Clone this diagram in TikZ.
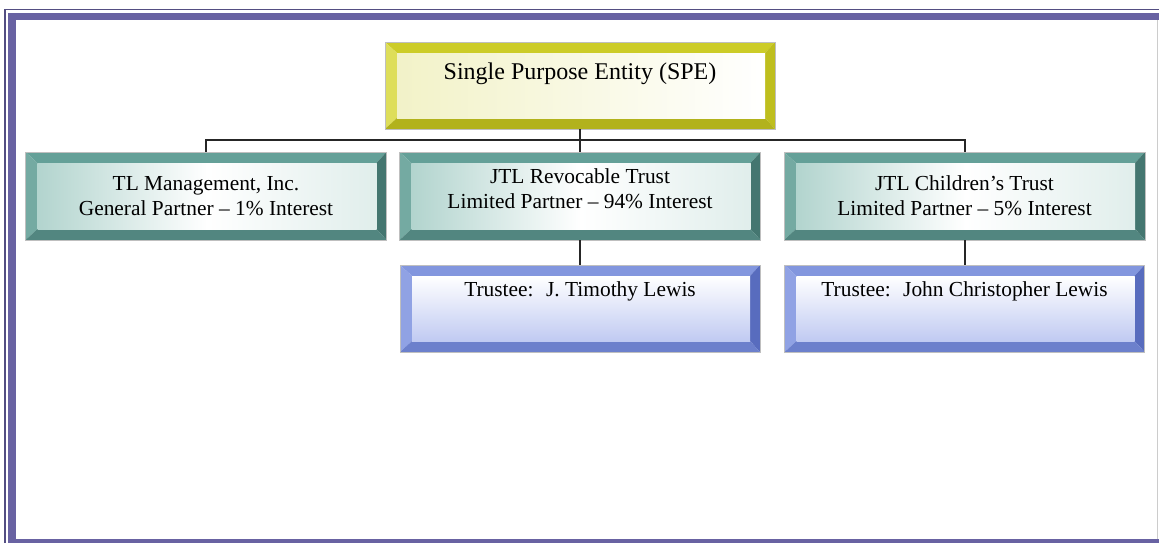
\documentclass[tikz,border=0pt]{standalone}
\usepackage{fontspec}
\setmainfont{Liberation Serif}
\usetikzlibrary{trees,shapes}

\definecolor{framec}{RGB}{104,98,162}
\definecolor{yelA}{RGB}{204,204,40}
\definecolor{yelB}{RGB}{222,222,90}
\definecolor{yelC}{RGB}{178,178,28}
\definecolor{yelD}{RGB}{190,190,30}
\definecolor{yelF}{RGB}{242,242,200}
\definecolor{tealA}{RGB}{100,160,152}
\definecolor{tealB}{RGB}{116,170,162}
\definecolor{tealC}{RGB}{68,118,112}
\definecolor{tealD}{RGB}{82,134,128}
\definecolor{tealF}{RGB}{178,212,206}
\definecolor{bluA}{RGB}{130,150,222}
\definecolor{bluB}{RGB}{144,162,228}
\definecolor{bluC}{RGB}{88,108,190}
\definecolor{bluD}{RGB}{108,128,204}
\definecolor{bluF}{RGB}{192,202,242}

\begin{document}
\begin{tikzpicture}[grow=down,
  level 1/.style={sibling distance=189.5pt, level distance=55.25pt},
  level 2/.style={level distance=56.25pt},
  edge from parent/.style={draw, line width=1pt, black!85},
  edge from parent path={(\tikzparentnode.south) -- ++(0,-5.5pt) -| (\tikzchildnode.north)},
  bevel/.style n args={5}{rectangle, draw=gray!50, line width=0.3pt, align=center,
    path picture={
      \coordinate (nw) at (path picture bounding box.north west);
      \coordinate (ne) at (path picture bounding box.north east);
      \coordinate (sw) at (path picture bounding box.south west);
      \coordinate (se) at (path picture bounding box.south east);
      \coordinate (inw) at ([shift={(6pt,-5.5pt)}]nw);
      \coordinate (ine) at ([shift={(-5pt,-5.5pt)}]ne);
      \coordinate (isw) at ([shift={(6pt,5.5pt)}]sw);
      \coordinate (ise) at ([shift={(-5pt,5.5pt)}]se);
      \fill[#1] (nw) -- (ne) -- (ine) -- (inw) -- cycle;
      \fill[#2] (nw) -- (inw) -- (isw) -- (sw) -- cycle;
      \fill[#3] (ne) -- (se) -- (ise) -- (ine) -- cycle;
      \fill[#4] (sw) -- (se) -- (ise) -- (isw) -- cycle;
      \shade[#5] (inw) rectangle (ise);
    }},
  spebox/.style={bevel={yelA}{yelB}{yelD}{yelC}{left color=yelF, right color=white},
    minimum width=195pt, minimum height=43.5pt, text depth=14.5pt,
    font=\fontsize{12}{14}\selectfont},
  partnerbox/.style={bevel={tealA}{tealB}{tealC}{tealD}{left color=tealF, right color=tealF!40, middle color=white},
    minimum width=180.5pt, minimum height=44pt,
    font=\fontsize{10.7}{12.5}\selectfont},
  trusteebox/.style={bevel={bluA}{bluB}{bluC}{bluD}{top color=white, bottom color=bluF},
    minimum width=180pt, minimum height=43.5pt, text depth=19.5pt,
    font=\fontsize{10.7}{12.5}\selectfont}]
  \useasboundingbox (0,0) rectangle (579.5pt,-271.5pt);

  % frame
  \fill[framec] (4pt,-6.5pt) rectangle (579.5pt,-10pt);
  \fill[framec] (4pt,-6.5pt) rectangle (8pt,-271.5pt);
  \fill[framec] (4pt,-269.5pt) rectangle (579.5pt,-271.5pt);
  \draw[framec!80!black, line width=0.8pt] (2.6pt,-271.5pt) -- (2.6pt,-4.7pt) -- (579.5pt,-4.7pt);
  \draw[gray!40, line width=0.8pt] (578.8pt,-10pt) -- (578.8pt,-269.5pt);

  \node[spebox] (spe) at (290pt,-42.75pt) {Single Purpose Entity (SPE)}
  child[xshift=2.5pt] {node[partnerbox] (tlm) {TL Management, Inc.\\General Partner -- 1\% Interest}}
  child {node[partnerbox, text depth=7.3pt] (rev) {JTL Revocable Trust\\Limited Partner -- 94\% Interest}
    child {node[trusteebox] (tr1) {Trustee:~ J.\ Timothy Lewis}}}
  child[xshift=2.75pt] {node[partnerbox] (kids) {JTL Children’s Trust\\Limited Partner -- 5\% Interest}
    child {node[trusteebox] (tr2) {Trustee:~ John Christopher Lewis}}};
\end{tikzpicture}
\end{document}
